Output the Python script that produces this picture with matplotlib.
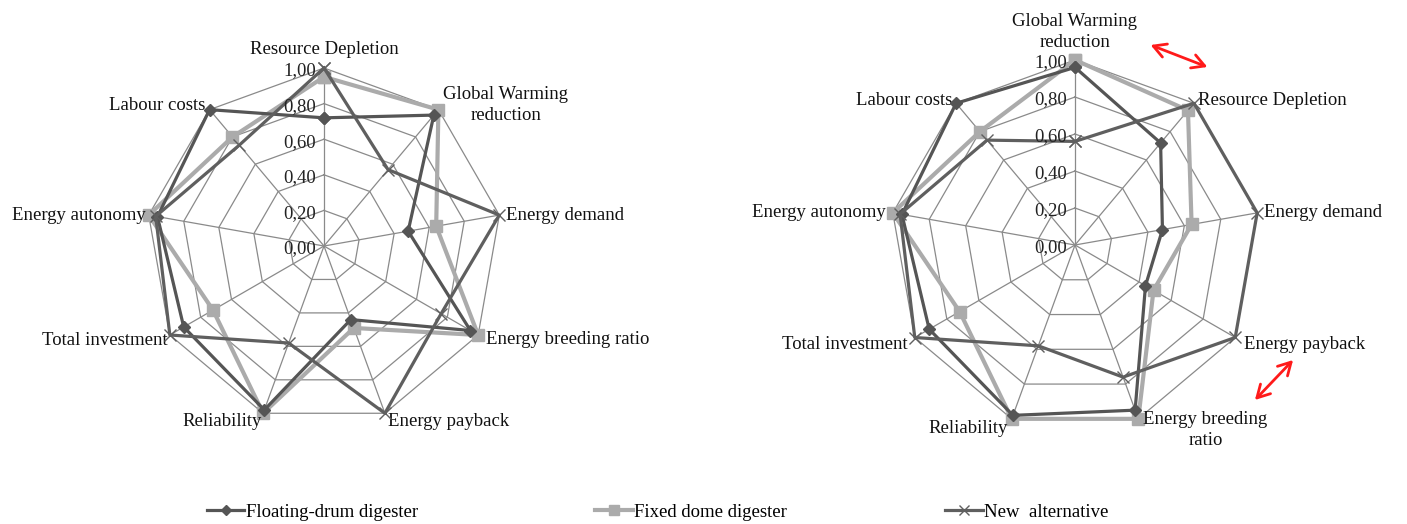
import numpy as np
import matplotlib
matplotlib.use("Agg")
import matplotlib.pyplot as plt
from matplotlib.lines import Line2D

# ---------------- data ----------------
criteria = ["Resource Depletion", "Global Warming reduction", "Energy demand",
            "Energy breeding ratio", "Energy payback", "Reliability",
            "Total investment", "Energy autonomy", "Labour costs"]
floating = [0.72, 0.96, 0.48, 0.95, 0.44, 0.98, 0.91, 0.95, 1.00]
fixed = [0.95, 1.00, 0.64, 1.00, 0.49, 1.00, 0.72, 1.00, 0.80]
new_alt = [1.00, 0.56, 1.00, 0.76, 1.00, 0.58, 1.00, 0.96, 0.74]

order_left = ["Resource Depletion", "Global Warming reduction", "Energy demand",
              "Energy breeding ratio", "Energy payback", "Reliability",
              "Total investment", "Energy autonomy", "Labour costs"]
order_right = ["Global Warming reduction", "Resource Depletion", "Energy demand",
               "Energy payback", "Energy breeding ratio", "Reliability",
               "Total investment", "Energy autonomy", "Labour costs"]

tick_values = [0.0, 0.2, 0.4, 0.6, 0.8, 1.0]
tick_labels = ["0,00", "0,20", "0,40", "0,60", "0,80", "1,00"]

series_names = ["Floating-drum digester", "Fixed dome digester", "New  alternative"]

# ---------------- style ----------------
plt.rcParams["font.family"] = ["Liberation Serif", "DejaVu Serif"]
FS = 13.5
W, H = 1407, 524
fig = plt.figure(figsize=(W / 100, H / 100), dpi=100)
fig.patch.set_facecolor("white")

styles = [
    dict(color="#555555", lw=2.3, marker="D", ms=6, mec="#555555", mfc="#555555", zorder=4),
    dict(color="#ababab", lw=3.0, marker="s", ms=9, mec="#ababab", mfc="#ababab", zorder=3),
    dict(color="#5f5f5f", lw=2.3, marker="x", ms=9, mec="#5f5f5f", mew=1.0, zorder=5),
]
GRID = "#8a8a8a"

left_labels = {
    "Resource Depletion": ("Resource Depletion", "center", (0, 18)),
    "Global Warming reduction": ("Global Warming\nreduction", "left", (5, 5)),
    "Energy demand": ("Energy demand", "left", (7, 0)),
    "Energy breeding ratio": ("Energy breeding ratio", "left", (8, -5)),
    "Energy payback": ("Energy payback", "left", (3, -8)),
    "Reliability": ("Reliability", "right", (-1, -8)),
    "Total investment": ("Total investment", "right", (-2, -5)),
    "Energy autonomy": ("Energy autonomy", "right", (-3, 0)),
    "Labour costs": ("Labour costs", "right", (-4, 4)),
}
right_labels = {
    "Global Warming reduction": ("Global Warming\nreduction", "center", (0, 28)),
    "Resource Depletion": ("Resource Depletion", "left", (4, 3)),
    "Energy demand": ("Energy demand", "left", (7, 0)),
    "Energy payback": ("Energy payback", "left", (9, -7)),
    "Energy breeding ratio": ("Energy breeding\nratio", "left", (5, -11)),
    "Reliability": ("Reliability", "right", (-4, -10)),
    "Total investment": ("Total investment", "right", (-7, -7)),
    "Energy autonomy": ("Energy autonomy", "right", (-7, 0)),
    "Labour costs": ("Labour costs", "right", (-4, 3)),
}


def radar(cx, cy, R, order, labels):
    ax = fig.add_axes([(cx - R) / W, 1 - (cy + R) / H, 2 * R / W, 2 * R / H],
                      projection="polar")
    ax.set_theta_offset(np.pi / 2)
    ax.set_theta_direction(-1)
    ax.set_ylim(0, 1)
    ax.set_xticks([])
    ax.set_yticks([])
    ax.grid(False)
    ax.spines["polar"].set_visible(False)
    ax.patch.set_alpha(0)
    n = len(order)
    theta = np.arange(n) * 2 * np.pi / n
    tc = np.append(theta, theta[0])
    # polygon web
    for lv in tick_values[1:]:
        ax.plot(tc, [lv] * (n + 1), color=GRID, lw=0.9, zorder=1)
    for t in theta:
        ax.plot([t, t], [0, 1], color=GRID, lw=0.9, zorder=1)
    # tick labels
    for v, lab in zip(tick_values, tick_labels):
        ax.annotate(lab, xy=(0, v), xytext=(-8, -3), textcoords="offset pixels",
                    ha="right", va="center", fontsize=FS, color="#222222", zorder=6)
    # series
    for vals, st in zip([floating, fixed, new_alt], styles):
        d = dict(zip(criteria, vals))
        r = [d[c] for c in order]
        ax.plot(tc, r + [r[0]], clip_on=False, **st)
    # category labels
    for t, c in zip(theta, order):
        txt, ha, off = labels[c]
        ax.annotate(txt, xy=(t, 1.0), xytext=off, textcoords="offset pixels",
                    ha=ha, va="center", multialignment="center", linespacing=1.3,
                    fontsize=FS, color="#111111", annotation_clip=False)
    return ax


radar(324, 246, 178, order_left, left_labels)
radar(1075, 245, 185, order_right, right_labels)

# red double arrows on the right chart
for (x0, y0), (x1, y1) in [((1148, 44), (1210, 68)), ((1295, 358), (1253, 402))]:
    fig.add_artist(matplotlib.patches.FancyArrowPatch(
        (x0 / W, 1 - y0 / H), (x1 / W, 1 - y1 / H), transform=fig.transFigure,
        arrowstyle="<->,head_length=9,head_width=5", color="#ff1a1a", lw=2.0,
        mutation_scale=1))

# legend
leg_x = [207, 595, 945]
for name, st, x in zip(series_names, styles, leg_x):
    kw = {k: v for k, v in st.items() if k != "zorder"}
    h = Line2D([], [], **kw)
    lg = fig.legend([h], [name], loc="center left",
                    bbox_to_anchor=(x / W, 1 - 512 / H), frameon=False,
                    fontsize=FS, handlelength=2.0, handletextpad=0.1,
                    borderpad=0, borderaxespad=0, markerscale=0.85)

fig.savefig("out.png", dpi=100, facecolor="white")
